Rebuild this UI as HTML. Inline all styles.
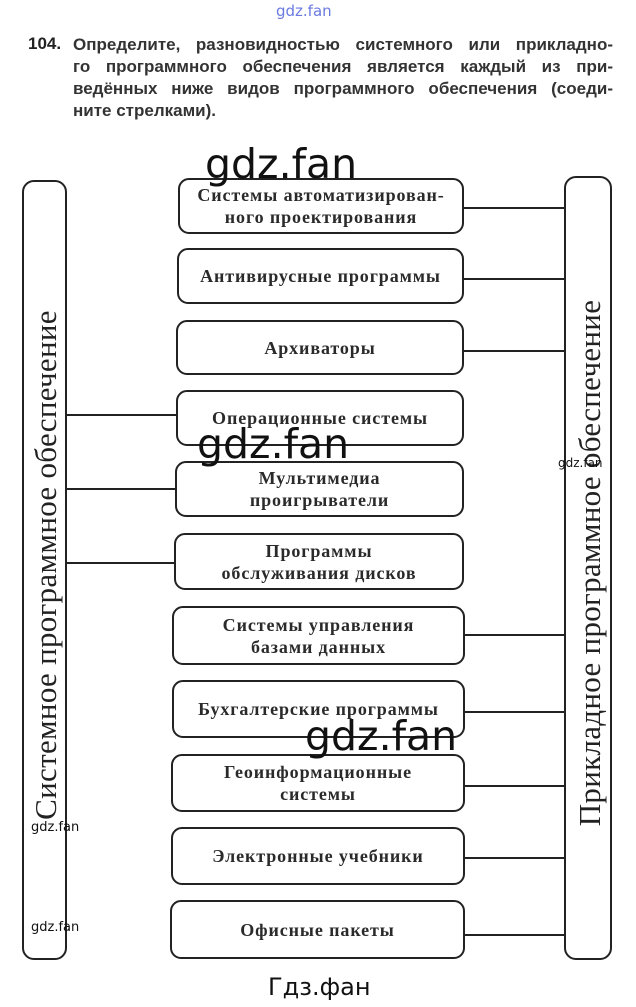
<!DOCTYPE html>
<html><head><meta charset="utf-8"><style>
body{margin:0;width:636px;height:1007px;background:#fff;position:relative;overflow:hidden;font-family:"Liberation Serif",serif;color:#222}
.b{position:absolute;border:2px solid #222;border-radius:11px;box-sizing:border-box;display:flex;align-items:center;justify-content:center;text-align:center;font-size:18px;font-weight:bold;letter-spacing:0.9px;line-height:22px;color:#2a2a2a}
.h{position:absolute;height:2px;background:#222}
.bar{position:absolute;border:2px solid #222;border-radius:12px;box-sizing:border-box}
.v{position:absolute;white-space:nowrap;font-size:31px;color:#222;letter-spacing:0.3px}
.hd{position:absolute;left:73px;width:540px;font-family:"Liberation Sans",sans-serif;font-weight:bold;font-size:17px;color:#333;text-align:justify;text-align-last:justify;white-space:nowrap;line-height:22px}
.w{position:absolute;font-family:"DejaVu Sans","Liberation Sans",sans-serif;color:#111;white-space:nowrap}
</style></head><body>
<div class="w" style="left:276px;top:2px;font-size:15px;color:#6a7ae0">gdz.fan</div>
<div style="position:absolute;left:28px;top:34px;font-family:'Liberation Sans',sans-serif;font-weight:bold;font-size:17px;color:#222">104.</div>
<div class="hd" style="top:34px">Определите, разновидностью системного или прикладно-</div>
<div class="hd" style="top:56px">го программного обеспечения является каждый из при-</div>
<div class="hd" style="top:78px">ведённых ниже видов программного обеспечения (соеди-</div>
<div class="hd" style="top:100px;text-align-last:left;width:auto">ните стрелками).</div>

<div class="bar" style="left:22px;top:180px;width:45px;height:780px"></div>
<div class="bar" style="left:564px;top:176px;width:48px;height:784px"></div>
<div class="v" style="left:46px;top:565px;transform:translate(-50%,-50%) rotate(-90deg)">Системное программное обеспечение</div>
<div class="v" style="left:590px;top:563px;transform:translate(-50%,-50%) rotate(-90deg)">Прикладное программное обеспечение</div>

<div class="b" style="left:178px;top:178px;width:286px;height:56px">Системы автоматизирован-<br>ного проектирования</div>
<div class="b" style="left:177px;top:248px;width:287px;height:56px">Антивирусные программы</div>
<div class="b" style="left:176px;top:320px;width:288px;height:55px">Архиваторы</div>
<div class="b" style="left:176px;top:390px;width:288px;height:56px">Операционные системы</div>
<div class="b" style="left:175px;top:461px;width:289px;height:56px">Мультимедиа<br>проигрыватели</div>
<div class="b" style="left:174px;top:533px;width:290px;height:57px">Программы<br>обслуживания дисков</div>
<div class="b" style="left:172px;top:606px;width:293px;height:59px">Системы управления<br>базами данных</div>
<div class="b" style="left:172px;top:680px;width:293px;height:58px">Бухгалтерские программы</div>
<div class="b" style="left:171px;top:754px;width:294px;height:58px">Геоинформационные<br>системы</div>
<div class="b" style="left:171px;top:827px;width:294px;height:58px">Электронные учебники</div>
<div class="b" style="left:170px;top:900px;width:295px;height:59px">Офисные пакеты</div>

<div class="h" style="left:65px;top:414px;width:112px"></div>
<div class="h" style="left:65px;top:488px;width:111px"></div>
<div class="h" style="left:65px;top:562px;width:110px"></div>

<div class="h" style="left:463px;top:207px;width:102px"></div>
<div class="h" style="left:463px;top:278px;width:102px"></div>
<div class="h" style="left:463px;top:350px;width:102px"></div>
<div class="h" style="left:464px;top:634px;width:102px"></div>
<div class="h" style="left:464px;top:711px;width:102px"></div>
<div class="h" style="left:464px;top:785px;width:102px"></div>
<div class="h" style="left:464px;top:857px;width:102px"></div>
<div class="h" style="left:464px;top:934px;width:102px"></div>

<div class="w" style="left:205px;top:140px;font-size:41px">gdz.fan</div>
<div class="w" style="left:197px;top:420px;font-size:41px">gdz.fan</div>
<div class="w" style="left:305px;top:712px;font-size:41px">gdz.fan</div>
<div class="w" style="left:558px;top:456px;font-size:12px">gdz.fan</div>
<div class="w" style="left:31px;top:820px;font-size:13px">gdz.fan</div>
<div class="w" style="left:31px;top:920px;font-size:13px">gdz.fan</div>
<div class="w" style="left:268px;top:973px;font-size:24px">Гдз.фан</div>
</body></html>
